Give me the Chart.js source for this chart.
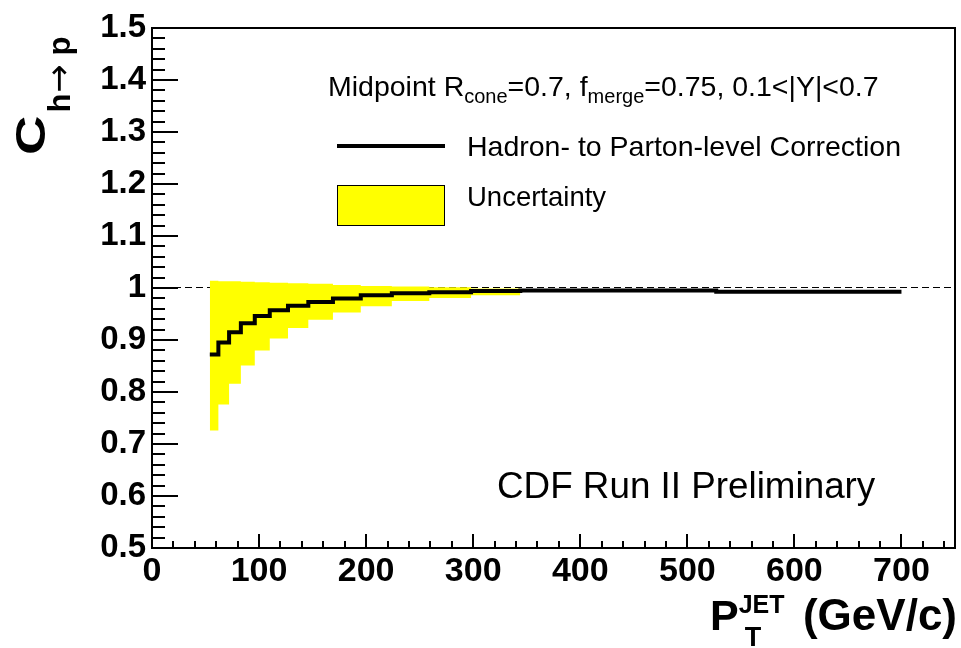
<!DOCTYPE html>
<html>
<head>
<meta charset="utf-8">
<script src="https://cdn.jsdelivr.net/npm/chart.js@4.4.1/dist/chart.umd.min.js"></script>
<style>
  html, body { margin: 0; padding: 0; background: #fff; }
  canvas { display: block; }
</style>
</head>
<body>
<canvas id="c" width="961" height="648"></canvas>
<script>
// Jet pT bin edges (GeV/c)
const binEdges = [54, 62, 72, 83, 96, 110, 127, 146, 169, 195, 224, 259, 298, 344, 396, 457, 527, 700];
// Hadron- to parton-level correction, one value per bin
const correction = [0.872, 0.895, 0.915, 0.932, 0.946, 0.957, 0.966, 0.973, 0.980, 0.986, 0.990, 0.992, 0.994, 0.995, 0.995, 0.995, 0.993];
// Uncertainty band limits for the first 13 bins (54-344 GeV/c)
const bandUpper = [1.014, 1.013, 1.013, 1.012, 1.011, 1.010, 1.009, 1.008, 1.006, 1.004, 1.003, 1.0015, 0.999];
const bandLower = [0.726, 0.776, 0.816, 0.851, 0.880, 0.903, 0.923, 0.939, 0.953, 0.965, 0.975, 0.981, 0.986];
// Axis tick labels
const xTickValues = [0, 100, 200, 300, 400, 500, 600, 700];
const yTickValues = [0.5, 0.6, 0.7, 0.8, 0.9, 1, 1.1, 1.2, 1.3, 1.4, 1.5];

const FONT = '"Liberation Sans", Arial, Helvetica, sans-serif';

// histogram-style points: one point per lower edge, plus the closing edge
function stepPoints(edges, values) {
  const pts = values.map((v, i) => ({ x: edges[i], y: v }));
  pts.push({ x: edges[values.length], y: values[values.length - 1] });
  return pts;
}

function runText(ctx, parts, x, y) {
  let cx = x;
  for (const p of parts) {
    ctx.font = (p.bold ? 'bold ' : '') + p.size + 'px ' + (p.family || FONT);
    ctx.fillText(p.t, cx + (p.dx || 0), y + (p.dy || 0));
    cx += ctx.measureText(p.t).width + (p.dx || 0);
  }
  return cx;
}

const rootStyle = {
  id: 'rootStyle',
  beforeDatasetsDraw(chart) {
    const { ctx, chartArea: a, scales: { y } } = chart;
    const y1 = Math.round(y.getPixelForValue(1)) - 0.5;
    ctx.save();
    ctx.strokeStyle = '#000';
    ctx.lineWidth = 1;
    ctx.setLineDash([7, 4]);
    ctx.beginPath();
    ctx.moveTo(a.left, y1);
    ctx.lineTo(a.right, y1);
    ctx.stroke();
    ctx.restore();
  },
  afterDatasetsDraw(chart) {
    const { ctx, chartArea: a, scales: { x, y } } = chart;
    ctx.save();
    ctx.strokeStyle = '#000';
    ctx.fillStyle = '#000';

    // frame
    ctx.lineWidth = 2;
    ctx.strokeRect(a.left, a.top, a.right - a.left, a.bottom - a.top);

    // inward ticks on the y axis: major every 0.1, minor every 0.02
    ctx.lineWidth = 2;
    ctx.beginPath();
    for (let i = 0; i <= 50; i++) {
      const v = 0.5 + i * 0.02;
      const py = Math.round(y.getPixelForValue(v));
      const len = (i % 5 === 0) ? 26 : 13;
      ctx.moveTo(a.left, py);
      ctx.lineTo(a.left + len, py);
    }
    // inward ticks on the x axis: major every 100, minor every 20
    for (let v = 0; v <= 740; v += 20) {
      const px = Math.round(x.getPixelForValue(v));
      const len = (v % 100 === 0) ? 14 : 7;
      ctx.moveTo(px, a.bottom);
      ctx.lineTo(px, a.bottom - len);
    }
    ctx.stroke();

    // header text
    ctx.textBaseline = 'alphabetic';
    ctx.textAlign = 'left';
    runText(ctx, [
      { t: 'Midpoint R', size: 28.5 },
      { t: 'cone', size: 20, dy: 7 },
      { t: '=0.7, f', size: 28.5 },
      { t: 'merge', size: 20, dy: 7 },
      { t: '=0.75, 0.1<|Y|<0.7', size: 28.5 }
    ], 328, 96);

    // legend
    ctx.lineWidth = 4;
    ctx.beginPath();
    ctx.moveTo(337, 146);
    ctx.lineTo(445, 146);
    ctx.stroke();
    ctx.fillStyle = '#ffff00';
    ctx.fillRect(337.5, 185.5, 107, 40);
    ctx.lineWidth = 1;
    ctx.strokeRect(337.5, 185.5, 107, 40);
    ctx.fillStyle = '#000';
    ctx.font = '28.5px ' + FONT;
    ctx.fillText('Hadron- to Parton-level Correction', 467, 156);
    ctx.font = '27.5px ' + FONT;
    ctx.fillText('Uncertainty', 467, 206);

    ctx.font = '36.8px ' + FONT;
    ctx.fillText('CDF Run II Preliminary', 497, 498);

    // x axis title
    ctx.font = 'bold 43px ' + FONT;
    ctx.fillText('P', 710, 630);
    const pw = ctx.measureText('P').width;
    ctx.font = 'bold 25px ' + FONT;
    ctx.fillText('JET', 710 + pw, 613);
    ctx.font = 'bold 27px ' + FONT;
    ctx.fillText('T', 712 + pw + 4, 646);
    ctx.font = 'bold 44px ' + FONT;
    ctx.textAlign = 'right';
    ctx.fillText('(GeV/c)', 957, 630);
    ctx.textAlign = 'left';

    // y axis title, rotated; the "C" is widened along the reading direction
    ctx.translate(45, 155);
    ctx.rotate(-Math.PI / 2);
    ctx.save();
    ctx.scale(1.3, 1);
    ctx.font = 'bold 42px ' + FONT;
    ctx.fillText('C', 0, 0);
    const cw = ctx.measureText('C').width * 1.3;
    ctx.restore();
    runText(ctx, [
      { t: 'h', size: 31, bold: true },
      { t: '\u2192', size: 34, family: '"DejaVu Sans", sans-serif', dx: 1 },
      { t: ' p', size: 31, bold: true }
    ], cw + 3, 25);

    ctx.restore();
  }
};

new Chart(document.getElementById('c'), {
  type: 'line',
  data: {
    datasets: [
      {
        label: 'Hadron- to Parton-level Correction',
        data: stepPoints(binEdges, correction),
        stepped: true,
        borderColor: '#000',
        borderWidth: 4,
        borderJoinStyle: 'miter',
        pointRadius: 0,
        fill: false,
        order: 0
      },
      {
        label: 'Uncertainty',
        data: stepPoints(binEdges, bandUpper),
        stepped: true,
        borderWidth: 0,
        borderColor: 'rgba(0,0,0,0)',
        backgroundColor: '#ffff00',
        pointRadius: 0,
        fill: '+1',
        order: 1
      },
      {
        label: 'Uncertainty low',
        data: stepPoints(binEdges, bandLower),
        stepped: true,
        borderWidth: 0,
        borderColor: 'rgba(0,0,0,0)',
        pointRadius: 0,
        fill: false,
        order: 2
      }
    ]
  },
  options: {
    responsive: false,
    animation: false,
    events: [],
    layout: { padding: { top: 28, right: 6, left: 0, bottom: 0 } },
    plugins: { legend: { display: false }, tooltip: { enabled: false } },
    scales: {
      x: {
        type: 'linear',
        min: 0,
        max: 750,
        grid: { display: false, drawTicks: false },
        border: { display: false },
        afterBuildTicks: s => { s.ticks = xTickValues.map(v => ({ value: v })); },
        afterFit: s => { s.height = 100; },
        ticks: {
          padding: 3,
          color: '#000',
          maxRotation: 0,
          font: { family: FONT, size: 34, weight: 'bold' },
          callback: v => String(v)
        }
      },
      y: {
        type: 'linear',
        min: 0.5,
        max: 1.5,
        grid: { display: false, drawTicks: false },
        border: { display: false },
        afterBuildTicks: s => { s.ticks = yTickValues.map(v => ({ value: v })); },
        afterFit: s => { s.width = 152; },
        ticks: {
          padding: 6,
          color: '#000',
          font: { family: FONT, size: 33, weight: 'bold' },
          callback: v => String(v)
        }
      }
    }
  },
  plugins: [rootStyle]
});
</script>
</body>
</html>
